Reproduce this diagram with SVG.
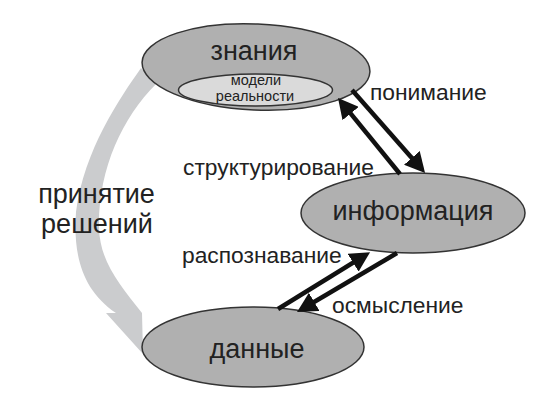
<svg xmlns="http://www.w3.org/2000/svg" width="544" height="410" viewBox="0 0 544 410">
<defs>
<style>
.node{fill:#b0b0b0;stroke:#333;stroke-width:1.5}
.inner{fill:#dadada;stroke:#333;stroke-width:1.5}
.nl{font-family:"Liberation Sans",Arial,sans-serif;font-size:27px;fill:#222;text-anchor:middle}
.il{font-family:"Liberation Sans",Arial,sans-serif;font-size:14.5px;fill:#222;text-anchor:middle}
.el{font-family:"Liberation Sans",Arial,sans-serif;font-size:22.8px;fill:#222}
.dl{font-family:"Liberation Sans",Arial,sans-serif;font-size:27px;fill:#222;text-anchor:middle}
.conn{stroke:#111;stroke-width:4.5;fill:none;marker-end:url(#ah)}
</style>
<marker id="ah" markerUnits="userSpaceOnUse" markerWidth="21" markerHeight="21" viewBox="0 0 21 21" refX="14" refY="10.5" orient="auto">
<path d="M0,0 L20,10.5 L0,21 Z" fill="#111"/>
</marker>
</defs>
<rect width="544" height="410" fill="#fff"/>
<g id="decision-arrow">
<path d="M141,68 C120,98 84,150 76,212 C73,255 82,290 116,313 L106,313 L143,354 L142,313 C120,285 100,262 99,228 C98,170 122,118 156,84 Z" fill="#cbccce"/>
<text class="dl" x="96.5" y="203">принятие</text>
<text class="dl" x="97" y="233">решений</text>
</g>
<g id="node-znaniya">
<ellipse class="node" cx="256" cy="67" rx="114" ry="43" transform="rotate(2.5 256 67)"/>
<text class="nl" x="254" y="60">знания</text>
<ellipse class="inner" cx="255.5" cy="90" rx="77" ry="16"/>
<text class="il" x="256" y="85">модели</text>
<text class="il" x="255" y="101">реальности</text>
</g>
<g id="node-informatsiya">
<ellipse class="node" cx="413" cy="213" rx="112" ry="40"/>
<text class="nl" x="413" y="220">информация</text>
</g>
<g id="node-dannye">
<ellipse class="node" cx="253" cy="347" rx="111" ry="40"/>
<text class="nl" x="257" y="358">данные</text>
</g>
<g id="connectors">
<line class="conn" x1="352" y1="90" x2="421.1" y2="168.4"/>
<line class="conn" x1="400" y1="174" x2="341.8" y2="102.7"/>
<line class="conn" x1="278" y1="309" x2="365" y2="255.3"/>
<line class="conn" x1="397" y1="253" x2="302.2" y2="309"/>
<text class="el" x="370" y="100">понимание</text>
<text class="el" x="183" y="175">структурирование</text>
<text class="el" x="182" y="263">распознавание</text>
<text class="el" x="332" y="313">осмысление</text>
</g>
</svg>
